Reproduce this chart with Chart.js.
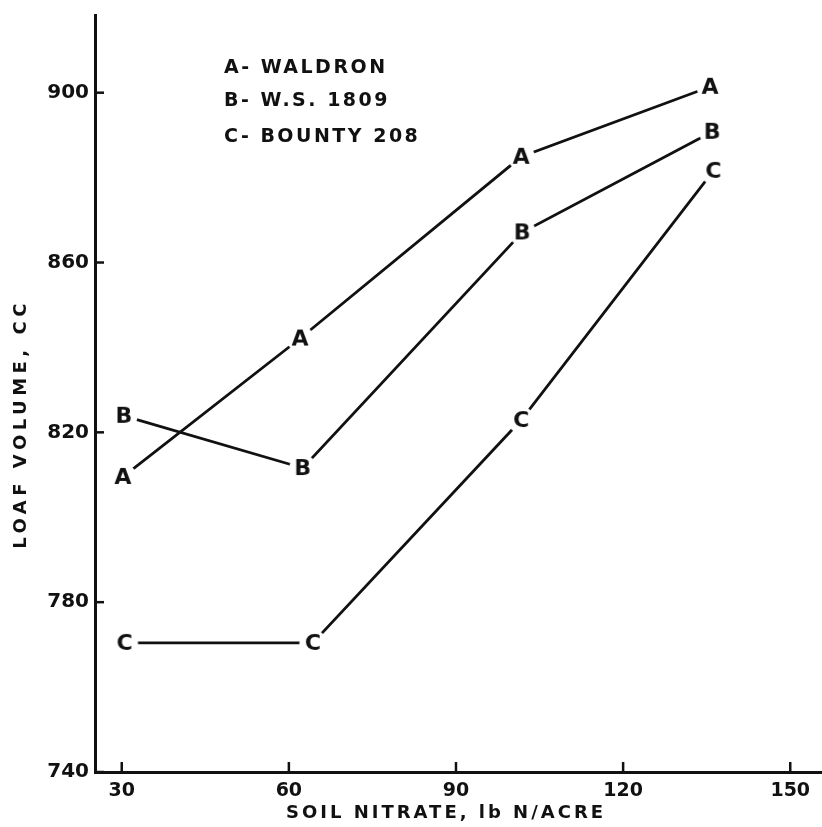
<!DOCTYPE html>
<html>
<head>
<meta charset="utf-8">
<script src="https://cdn.jsdelivr.net/npm/chart.js@4.4.0/dist/chart.umd.min.js"></script>
<style>
    body { margin: 0; background: #fff; }
    canvas { display: block; }
</style>
</head>
<body>
<canvas id="loaf-chart" width="822" height="827"></canvas>
<script>
// Данные графика
const xTicks = [30, 60, 90, 120, 150];
const yTicks = [740, 780, 820, 860, 900];
const seriesLetters = ['A', 'B', 'C'];
const seriesNames = ['WALDRON', 'W.S. 1809', 'BOUNTY 208'];

const waldronX = [30.2, 62.0, 101.7, 135.6];
const waldronY = [809.5, 842.1, 884.9, 901.4];
const ws1809X = [30.4, 62.5, 101.9, 136.0];
const ws1809Y = [823.9, 811.6, 867.1, 890.8];
const bountyX = [30.5, 64.3, 101.7, 136.2];
const bountyY = [770.4, 770.4, 822.9, 881.6];

const INK = '#111';
const FONT = '"DejaVu Sans"';

// Буква как маркер точки: белый круг закрывает конец линии
function letterMarker(letter) {
    const c = document.createElement('canvas');
    c.width = 30;
    c.height = 30;
    const g = c.getContext('2d');
    g.fillStyle = '#fff';
    g.beginPath();
    g.arc(15, 15, 13.5, 0, Math.PI * 2);
    g.fill();
    g.fillStyle = INK;
    g.font = 'bold 22px ' + FONT;
    g.textAlign = 'center';
    g.textBaseline = 'middle';
    g.fillText(letter, 15, 16);
    return c;
}

function makeSeries(letter, xs, ys) {
    return {
        label: letter,
        data: xs.map((x, i) => ({ x: x, y: ys[i] })),
        borderColor: INK,
        borderWidth: 2.8,
        pointStyle: letterMarker(letter),
        pointRadius: 10,
        tension: 0,
        fill: false
    };
}

// Внутренние засечки, подписи осей и легенда
const decorations = {
    id: 'decorations',
    afterDraw(chart) {
        const { ctx, chartArea, scales } = chart;
        ctx.save();
        ctx.strokeStyle = INK;
        ctx.lineWidth = 2.5;
        xTicks.forEach(v => {
            const px = scales.x.getPixelForValue(v);
            ctx.beginPath();
            ctx.moveTo(px, chartArea.bottom);
            ctx.lineTo(px, chartArea.bottom - 10);
            ctx.stroke();
        });
        yTicks.forEach(v => {
            const py = scales.y.getPixelForValue(v);
            ctx.beginPath();
            ctx.moveTo(chartArea.left, py);
            ctx.lineTo(chartArea.left + 9, py);
            ctx.stroke();
        });

        ctx.fillStyle = INK;
        ctx.textBaseline = 'middle';

        // подпись оси X
        ctx.font = 'bold 18px ' + FONT;
        ctx.letterSpacing = '3px';
        ctx.textAlign = 'center';
        ctx.fillText('SOIL NITRATE, lb N/ACRE', 446, 813);

        // подпись оси Y
        ctx.save();
        ctx.letterSpacing = '4.5px';
        ctx.translate(21, 424);
        ctx.rotate(-Math.PI / 2);
        ctx.fillText('LOAF VOLUME, CC', 0, 0);
        ctx.restore();

        // легенда
        ctx.font = 'bold 19px ' + FONT;
        ctx.textAlign = 'left';
        ctx.letterSpacing = '2.5px';
        const legendY = [68, 101, 137];
        seriesLetters.forEach((l, i) => {
            ctx.fillText(l + '- ' + seriesNames[i], 224, legendY[i]);
        });
        ctx.restore();
    }
};

new Chart(document.getElementById('loaf-chart'), {
    type: 'line',
    data: {
        datasets: [
            makeSeries('A', waldronX, waldronY),
            makeSeries('B', ws1809X, ws1809Y),
            makeSeries('C', bountyX, bountyY)
        ]
    },
    options: {
        responsive: false,
        animation: false,
        layout: { autoPadding: false, padding: { top: 15, left: 0, right: 0, bottom: 0 } },
        plugins: {
            legend: { display: false },
            tooltip: { enabled: false }
        },
        scales: {
            x: {
                type: 'linear',
                min: 25.2,
                max: 155.7,
                afterBuildTicks: s => { s.ticks = xTicks.map(v => ({ value: v })); },
                afterFit: s => { s.height = 55; s.paddingLeft = 0; s.paddingRight = 0; },
                grid: { display: false, drawTicks: false },
                border: { display: true, color: INK, width: 3 },
                ticks: {
                    color: INK,
                    padding: 8,
                    maxRotation: 0,
                    font: { family: 'DejaVu Sans', weight: 'bold', size: 19 }
                }
            },
            y: {
                type: 'linear',
                min: 740,
                max: 918.3,
                afterBuildTicks: s => { s.ticks = yTicks.map(v => ({ value: v })); },
                afterFit: s => { s.width = 95; s.paddingTop = 0; s.paddingBottom = 0; },
                grid: { display: false, drawTicks: false },
                border: { display: true, color: INK, width: 3 },
                ticks: {
                    color: INK,
                    padding: 6,
                    font: { family: 'DejaVu Sans', weight: 'bold', size: 20 }
                }
            }
        }
    },
    plugins: [decorations]
});
</script>
</body>
</html>
